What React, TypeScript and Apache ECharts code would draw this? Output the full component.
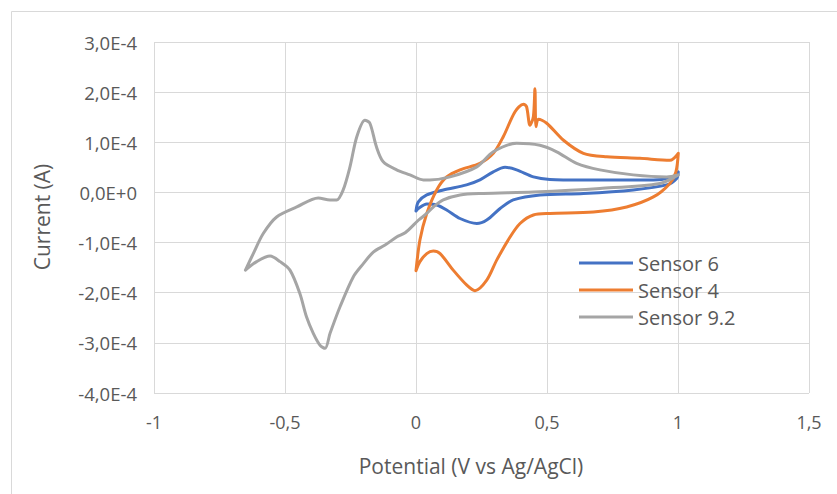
import React, { useEffect, useRef } from "react";
import * as echarts from "echarts";

// Cyclic voltammograms, potential in V vs Ag/AgCl, current in A
const seriesNames = ["Sensor 6", "Sensor 4", "Sensor 9.2"];
const seriesColors = ["#4472C4", "#ED7D31", "#A5A5A5"];

const sensor6Potential = [
  0.0, 0.009, 0.041, 0.104, 0.193, 0.244, 0.295, 0.34, 0.384, 0.448, 0.511, 0.639, 0.765, 0.906,
  0.982, 1.001, 0.995, 0.956, 0.829, 0.639, 0.473, 0.371, 0.321, 0.27, 0.232, 0.168, 0.117, 0.079,
  0.041, 0.009, 0.0,
];
const sensor6Current = [
  -0.37e-4, -0.19e-4, -0.05e-4, 0.05e-4, 0.15e-4, 0.25e-4, 0.41e-4, 0.5e-4, 0.45e-4, 0.31e-4,
  0.26e-4, 0.25e-4, 0.25e-4, 0.25e-4, 0.31e-4, 0.41e-4, 0.28e-4, 0.15e-4, 0.05e-4, -0.02e-4,
  -0.05e-4, -0.15e-4, -0.32e-4, -0.55e-4, -0.62e-4, -0.52e-4, -0.35e-4, -0.25e-4, -0.23e-4,
  -0.32e-4, -0.37e-4,
];

const sensor4Potential = [
  0.0, 0.015, 0.041, 0.079, 0.117, 0.168, 0.244, 0.295, 0.333, 0.378, 0.41, 0.422, 0.435, 0.448,
  0.454, 0.458, 0.467, 0.499, 0.563, 0.639, 0.728, 0.855, 0.969, 1.001, 0.992, 0.969, 0.906, 0.804,
  0.677, 0.511, 0.448, 0.397, 0.359, 0.308, 0.27, 0.225, 0.194, 0.142, 0.092, 0.066, 0.041, 0.015,
  0.0,
];
const sensor4Current = [
  -1.56e-4, -0.95e-4, -0.42e-4, 0.05e-4, 0.31e-4, 0.45e-4, 0.58e-4, 0.78e-4, 1.11e-4, 1.61e-4,
  1.76e-4, 1.71e-4, 1.34e-4, 1.51e-4, 2.07e-4, 1.31e-4, 1.46e-4, 1.38e-4, 1.04e-4, 0.78e-4,
  0.71e-4, 0.68e-4, 0.64e-4, 0.78e-4, 0.41e-4, 0.18e-4, -0.09e-4, -0.29e-4, -0.39e-4, -0.42e-4,
  -0.45e-4, -0.62e-4, -0.89e-4, -1.35e-4, -1.75e-4, -1.96e-4, -1.85e-4, -1.55e-4, -1.22e-4,
  -1.17e-4, -1.22e-4, -1.38e-4, -1.56e-4,
];

const sensor92Potential = [
  -0.651, -0.621, -0.583, -0.532, -0.455, -0.373, -0.328, -0.303, -0.278, -0.252, -0.226, -0.195,
  -0.176, -0.151, -0.125, -0.074, -0.023, 0.028, 0.053, 0.13, 0.232, 0.295, 0.384, 0.473, 0.537,
  0.613, 0.702, 0.829, 0.957, 1.001, 0.931, 0.702, 0.448, 0.257, 0.168, 0.104, 0.066, 0.041, 0.01,
  -0.04, -0.074, -0.118, -0.163, -0.201, -0.239, -0.29, -0.328, -0.347, -0.366, -0.392, -0.418,
  -0.443, -0.481, -0.519, -0.557, -0.608, -0.651,
];
const sensor92Current = [
  -1.55e-4, -1.22e-4, -0.82e-4, -0.49e-4, -0.29e-4, -0.11e-4, -0.15e-4, -0.15e-4, 0.05e-4,
  0.51e-4, 1.11e-4, 1.44e-4, 1.38e-4, 0.91e-4, 0.61e-4, 0.45e-4, 0.35e-4, 0.25e-4, 0.25e-4,
  0.31e-4, 0.51e-4, 0.81e-4, 0.98e-4, 0.94e-4, 0.81e-4, 0.58e-4, 0.45e-4, 0.35e-4, 0.31e-4,
  0.35e-4, 0.18e-4, 0.08e-4, 0.01e-4, -0.02e-4, -0.05e-4, -0.15e-4, -0.29e-4, -0.42e-4, -0.55e-4,
  -0.8e-4, -0.89e-4, -1.05e-4, -1.19e-4, -1.42e-4, -1.68e-4, -2.28e-4, -2.81e-4, -3.11e-4,
  -3.05e-4, -2.81e-4, -2.48e-4, -2.02e-4, -1.55e-4, -1.38e-4, -1.27e-4, -1.38e-4, -1.55e-4,
];

const potentials = [sensor6Potential, sensor4Potential, sensor92Potential];
const currents = [sensor6Current, sensor4Current, sensor92Current];

const xTitle = "Potential (V vs Ag/AgCl)";
const yTitle = "Current (A)";

const textColor = "#595959";
const gridColor = "#D9D9D9";
const fontFamily = "'Open Sans', 'Noto Sans', sans-serif";

const formatPotential = (v: number) => String(Math.round(v * 10) / 10).replace(".", ",");
const formatCurrent = (v: number) => {
  if (Math.abs(v) < 1e-9) return "0,0E+0";
  return (v / 1e-4).toFixed(1).replace(".", ",") + "E-4";
};

export default function App() {
  const ref = useRef<HTMLDivElement>(null);

  useEffect(() => {
    if (!ref.current) return;
    const chart = echarts.init(ref.current, null, { renderer: "svg" });

    const series = seriesNames.map((name, i) => ({
      name,
      type: "line",
      data: potentials[i].map((x, j) => [x, currents[i][j]]),
      showSymbol: false,
      smooth: 0.3,
      lineStyle: { width: 3, color: seriesColors[i], cap: "round", join: "round" },
      itemStyle: { color: seriesColors[i] },
      z: 2 + i,
    }));

    chart.setOption({
      animation: false,
      backgroundColor: "#FFFFFF",
      grid: { left: 154, right: 28, top: 42, bottom: 101, containLabel: false },
      xAxis: {
        type: "value",
        min: -1,
        max: 1.5,
        interval: 0.5,
        axisLine: { show: false },
        axisTick: { show: false },
        splitLine: { show: true, lineStyle: { color: gridColor, width: 1 } },
        axisLabel: {
          color: textColor,
          fontFamily,
          fontSize: 18,
          margin: 20,
          formatter: formatPotential,
        },
      },
      yAxis: {
        type: "value",
        min: -4e-4,
        max: 3e-4,
        interval: 1e-4,
        axisLine: { show: false },
        axisTick: { show: false },
        splitLine: { show: true, lineStyle: { color: gridColor, width: 1 } },
        axisLabel: {
          color: textColor,
          fontFamily,
          fontSize: 18.5,
          margin: 17,
          formatter: formatCurrent,
        },
      },
      legend: {
        data: seriesNames,
        orient: "vertical",
        left: 579,
        top: 252,
        padding: 0,
        icon: "rect",
        itemWidth: 54,
        itemHeight: 3,
        itemGap: 5,
        textStyle: { color: textColor, fontFamily, fontSize: 20, lineHeight: 22 },
      },
      graphic: [
        {
          type: "rect",
          silent: true,
          shape: { x: 11.5, y: 11.5, width: 840, height: 500 },
          style: { fill: "none", stroke: gridColor, lineWidth: 1 },
          z: -10,
        },
        {
          type: "text",
          x: 471,
          y: 466,
          style: {
            text: xTitle,
            fill: textColor,
            font: `21px ${fontFamily}`,
            textAlign: "center",
            textVerticalAlign: "middle",
          },
        },
        {
          type: "text",
          x: 42,
          y: 217,
          rotation: Math.PI / 2,
          style: {
            text: yTitle,
            fill: textColor,
            font: `21px ${fontFamily}`,
            textAlign: "center",
            textVerticalAlign: "middle",
          },
        },
      ],
      series,
    });

    return () => chart.dispose();
  }, []);

  return (
    <div
      ref={ref}
      style={{ position: "fixed", left: 0, top: 0, width: 837, height: 494, background: "#fff" }}
    />
  );
}
